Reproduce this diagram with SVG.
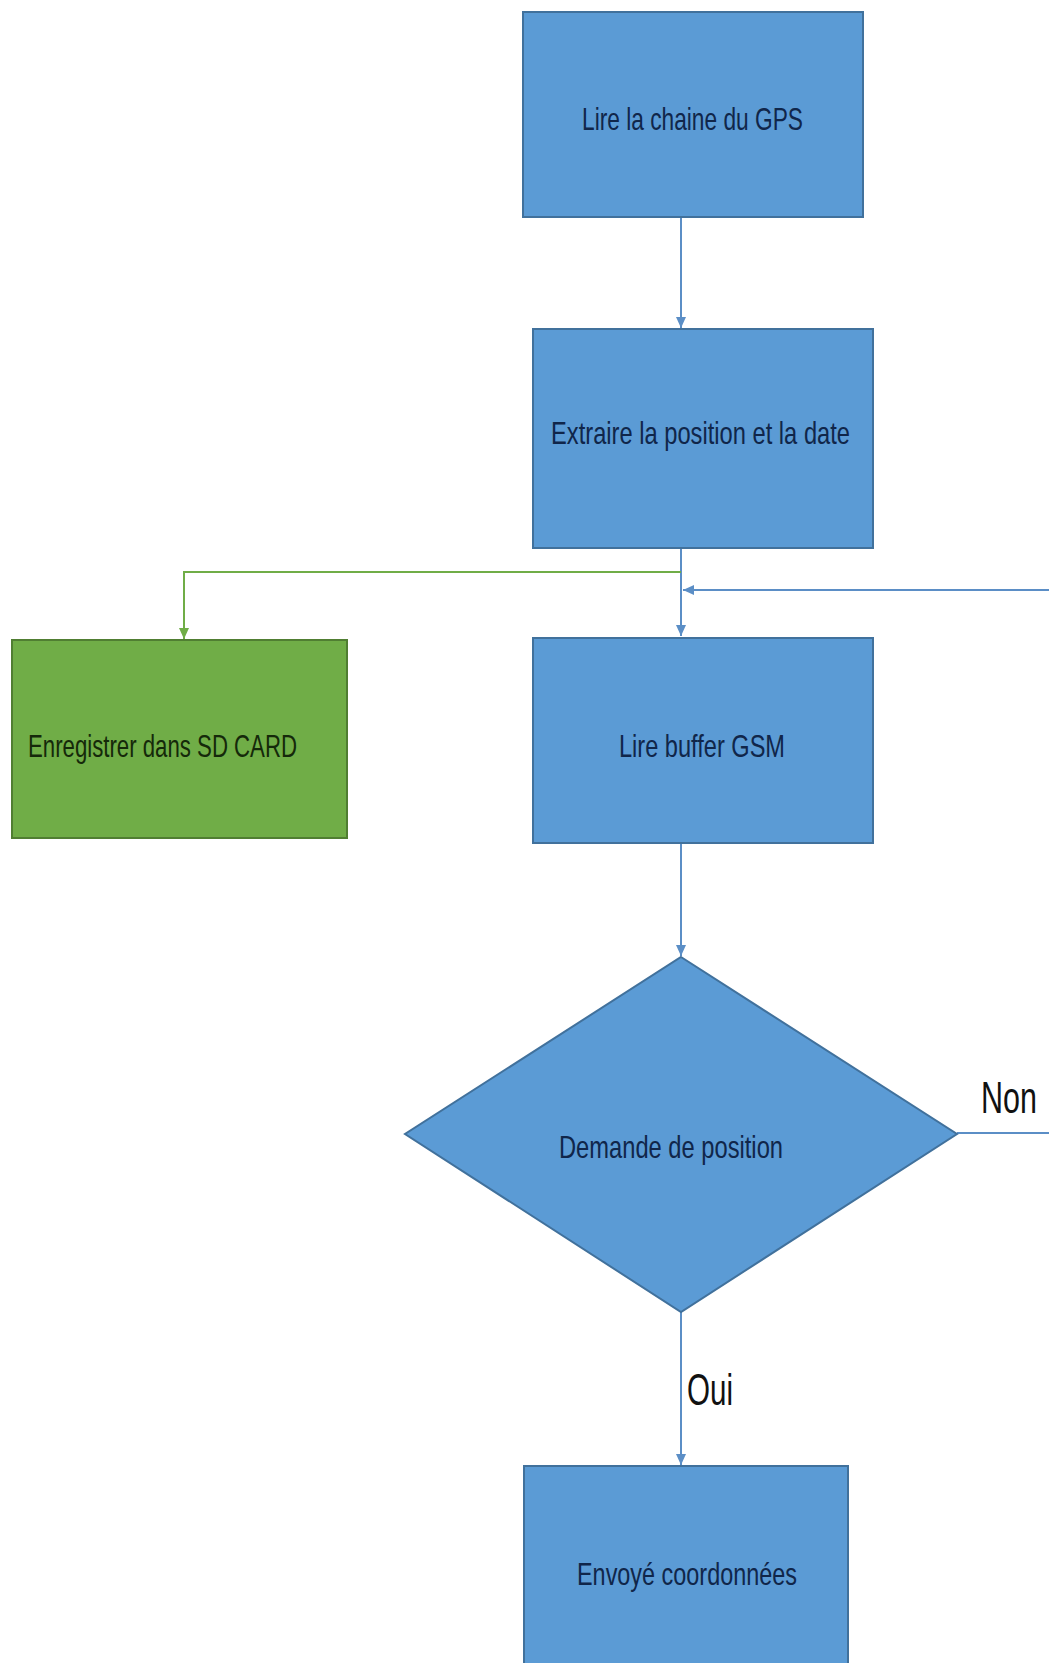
<svg xmlns="http://www.w3.org/2000/svg" width="1049" height="1663" viewBox="0 0 1049 1663">
  <style>
    .box { fill: #5b9bd5; stroke: #41719c; stroke-width: 2; }
    .gbox { fill: #70ad47; stroke: #507e32; stroke-width: 2; }
    .lbl { font-family: "Liberation Sans", Arial, sans-serif; font-size: 32px; fill: #10264a; }
    .glbl { font-family: "Liberation Sans", Arial, sans-serif; font-size: 32px; fill: #15290a; }
    .cond { font-family: "Liberation Sans", Arial, sans-serif; font-size: 44px; fill: #111111; }
    .wire { fill: none; stroke: #5b8ec6; stroke-width: 2; }
    .gwire { fill: none; stroke: #70ad47; stroke-width: 2; }
  </style>
  <defs>
    <marker id="arrowBlue" markerUnits="userSpaceOnUse" markerWidth="12" markerHeight="12" refX="11" refY="6" orient="auto">
      <path d="M0,1 L11,6 L0,11 z" fill="#5b8ec6"/>
    </marker>
    <marker id="arrowGreen" markerUnits="userSpaceOnUse" markerWidth="12" markerHeight="12" refX="11" refY="6" orient="auto">
      <path d="M0,1 L11,6 L0,11 z" fill="#70ad47"/>
    </marker>
  </defs>
  <rect width="1049" height="1663" fill="#ffffff"/>

  <g id="connectors">
    <path class="wire" d="M681,217 V328" marker-end="url(#arrowBlue)"/>
    <path class="wire" d="M681,548 V636" marker-end="url(#arrowBlue)"/>
    <path class="gwire" d="M681,572 H184 V639" marker-end="url(#arrowGreen)"/>
    <path class="wire" d="M681,843 V956" marker-end="url(#arrowBlue)"/>
    <path class="wire" d="M681,1312 V1465" marker-end="url(#arrowBlue)"/>
    <!-- "Non" loop runs out past the right edge and back in above Lire buffer GSM -->
    <path class="wire" d="M957,1133 H1070 V590 H683" marker-end="url(#arrowBlue)"/>
  </g>

  <g id="lire-gps">
    <rect class="box" x="523" y="12" width="340" height="205"/>
    <text class="lbl" x="582" y="130" textLength="221" lengthAdjust="spacingAndGlyphs">Lire la chaine du GPS</text>
  </g>

  <g id="extraire">
    <rect class="box" x="533" y="329" width="340" height="219"/>
    <text class="lbl" x="551" y="444" textLength="299" lengthAdjust="spacingAndGlyphs">Extraire la position et la date</text>
  </g>

  <g id="sd-card">
    <rect class="gbox" x="12" y="640" width="335" height="198"/>
    <text class="glbl" x="28" y="757" textLength="269" lengthAdjust="spacingAndGlyphs">Enregistrer dans SD CARD</text>
  </g>

  <g id="lire-gsm">
    <rect class="box" x="533" y="638" width="340" height="205"/>
    <text class="lbl" x="619" y="757" textLength="166" lengthAdjust="spacingAndGlyphs">Lire buffer GSM</text>
  </g>

  <g id="demande">
    <polygon class="box" points="681,957 957,1134 681,1312 405,1134"/>
    <text class="lbl" x="559" y="1158" textLength="224" lengthAdjust="spacingAndGlyphs">Demande de position</text>
  </g>

  <g id="envoye">
    <rect class="box" x="524" y="1466" width="324" height="210"/>
    <text class="lbl" x="577" y="1585" textLength="220" lengthAdjust="spacingAndGlyphs">Envoyé coordonnées</text>
  </g>

  <g id="labels">
    <!-- narrow, tall label: drawn at a smaller size and stretched vertically -->
    <text class="cond" transform="translate(981,1113) scale(1,1.45)" x="0" y="0" style="font-size:30.5px">Non</text>
    <text class="cond" x="687" y="1405" textLength="46" lengthAdjust="spacingAndGlyphs">Oui</text>
  </g>
</svg>
